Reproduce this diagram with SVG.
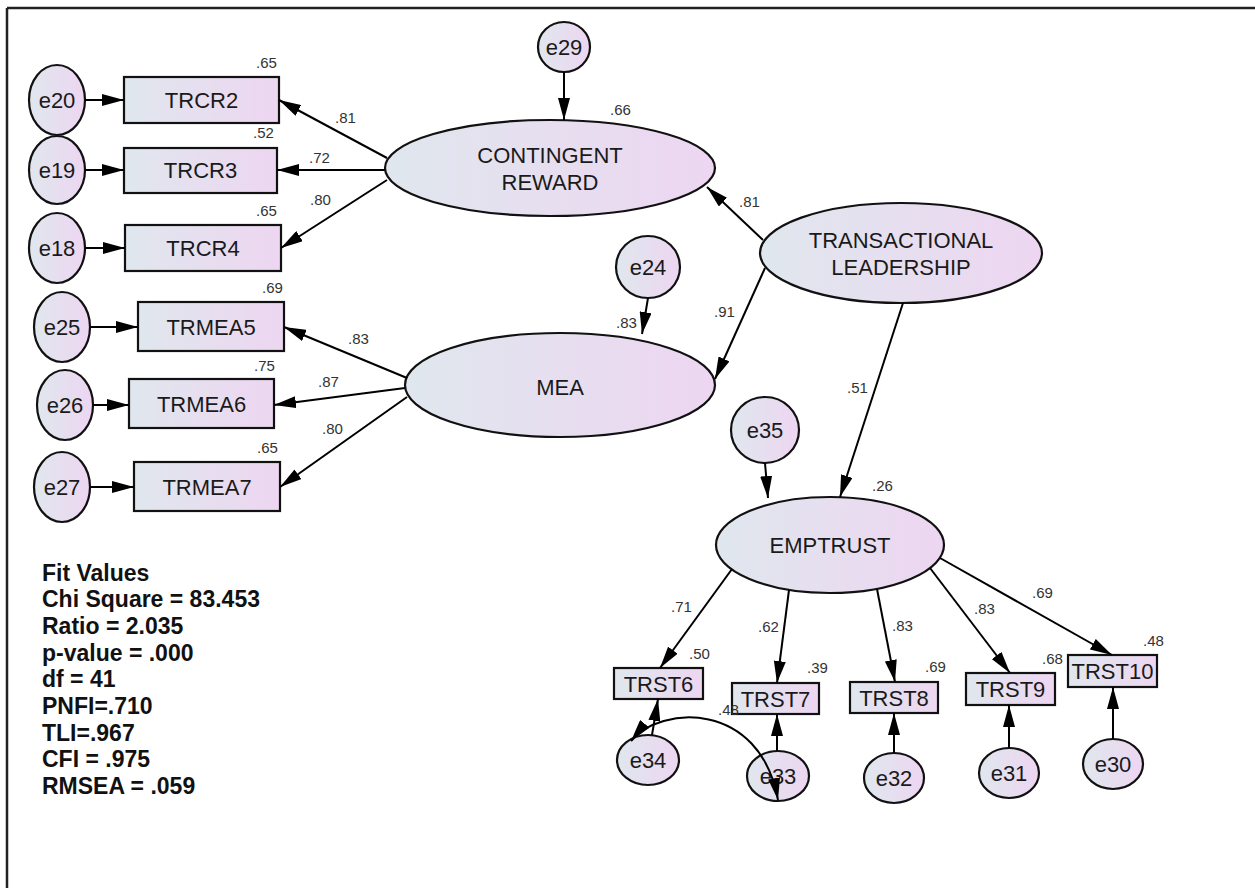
<svg xmlns="http://www.w3.org/2000/svg" width="1255" height="888" viewBox="0 0 1255 888">
<defs>
<linearGradient id="fillG" x1="0" y1="0" x2="1" y2="0">
<stop offset="0" stop-color="#e0e7ee"/>
<stop offset="1" stop-color="#edd6f1"/>
</linearGradient>
<marker id="ah" viewBox="0 0 22 12" refX="22" refY="6" markerWidth="22" markerHeight="12" orient="auto-start-reverse" markerUnits="userSpaceOnUse">
<path d="M0,0 L22,6 L0,12 z" fill="#000"/>
</marker>
<style>
.shape{fill:url(#fillG);stroke:#111;stroke-width:2.2}
.lbl{font-family:"Liberation Sans",Arial,sans-serif;font-size:22px;fill:#1a1a1a;text-anchor:middle;dominant-baseline:central}
.num{font-family:"Liberation Sans",Arial,sans-serif;font-size:15px;fill:#333}
.con{stroke:#000;stroke-width:2;fill:none;marker-end:url(#ah)}
.fit{font-family:"Liberation Sans",Arial,sans-serif;font-size:23px;font-weight:bold;fill:#111}
</style>
</defs>
<rect x="0" y="0" width="1255" height="888" fill="#fff"/>
<g id="frame" stroke="#222" stroke-width="2.5">
<line x1="7" y1="8" x2="1255" y2="8"/>
<line x1="7" y1="8" x2="7" y2="888"/>
</g>

<g id="e20"><ellipse class="shape" cx="57" cy="100" rx="28" ry="35"/><text class="lbl" x="57" y="100">e20</text></g>
<g id="e19"><ellipse class="shape" cx="57" cy="170" rx="28" ry="34"/><text class="lbl" x="57" y="170">e19</text></g>
<g id="e18"><ellipse class="shape" cx="57" cy="248" rx="28" ry="35"/><text class="lbl" x="57" y="248">e18</text></g>
<g id="TRCR2"><rect class="shape" x="124" y="77" width="155" height="46"/><text class="lbl" x="201.5" y="100">TRCR2</text><text class="num" x="256" y="68">.65</text></g>
<g id="TRCR3"><rect class="shape" x="124" y="148" width="153" height="45"/><text class="lbl" x="200.5" y="170">TRCR3</text><text class="num" x="253" y="138">.52</text></g>
<g id="TRCR4"><rect class="shape" x="125" y="225" width="156" height="46"/><text class="lbl" x="203" y="248">TRCR4</text><text class="num" x="256" y="216">.65</text></g>

<g id="e25"><ellipse class="shape" cx="62" cy="327" rx="28" ry="35"/><text class="lbl" x="62" y="327">e25</text></g>
<g id="e26"><ellipse class="shape" cx="65" cy="405" rx="28" ry="35"/><text class="lbl" x="65" y="405">e26</text></g>
<g id="e27"><ellipse class="shape" cx="62" cy="487" rx="28" ry="35"/><text class="lbl" x="62" y="487">e27</text></g>
<g id="TRMEA5"><rect class="shape" x="138" y="302" width="146" height="49"/><text class="lbl" x="211" y="327">TRMEA5</text><text class="num" x="262" y="293">.69</text></g>
<g id="TRMEA6"><rect class="shape" x="129" y="379" width="145" height="49"/><text class="lbl" x="201.5" y="404">TRMEA6</text><text class="num" x="254" y="371">.75</text></g>
<g id="TRMEA7"><rect class="shape" x="134" y="462" width="146" height="49"/><text class="lbl" x="207" y="487">TRMEA7</text><text class="num" x="257" y="453">.65</text></g>

<g id="e29"><ellipse class="shape" cx="564" cy="47" rx="26" ry="25"/><text class="lbl" x="564" y="47">e29</text></g>
<g id="CONTINGENT_REWARD"><ellipse class="shape" cx="550" cy="168" rx="165" ry="48"/><text class="lbl" x="550" y="155">CONTINGENT</text><text class="lbl" x="550" y="182">REWARD</text><text class="num" x="610" y="115">.66</text></g>
<g id="e24"><ellipse class="shape" cx="648" cy="267" rx="32" ry="31"/><text class="lbl" x="648" y="267">e24</text></g>
<g id="MEA"><ellipse class="shape" cx="560" cy="385" rx="155" ry="52"/><text class="lbl" x="560" y="387">MEA</text><text class="num" x="616" y="328">.83</text></g>
<g id="TRANSACTIONAL_LEADERSHIP"><ellipse class="shape" cx="901" cy="253" rx="141" ry="50"/><text class="lbl" x="901" y="240">TRANSACTIONAL</text><text class="lbl" x="901" y="267">LEADERSHIP</text></g>
<g id="e35"><ellipse class="shape" cx="765" cy="430" rx="34" ry="33"/><text class="lbl" x="765" y="430">e35</text></g>
<g id="EMPTRUST"><ellipse class="shape" cx="830" cy="545" rx="114" ry="48"/><text class="lbl" x="830" y="545">EMPTRUST</text><text class="num" x="872" y="491">.26</text></g>

<g id="TRST6"><rect class="shape" x="614" y="668" width="89" height="31"/><text class="lbl" x="658.5" y="684">TRST6</text><text class="num" x="689" y="659">.50</text></g>
<g id="TRST7"><rect class="shape" x="732" y="683" width="87" height="31"/><text class="lbl" x="775.5" y="699">TRST7</text><text class="num" x="807" y="673">.39</text></g>
<g id="TRST8"><rect class="shape" x="850" y="682" width="88" height="31"/><text class="lbl" x="894" y="698">TRST8</text><text class="num" x="925" y="672">.69</text></g>
<g id="TRST9"><rect class="shape" x="966" y="673" width="89" height="32"/><text class="lbl" x="1010.5" y="689">TRST9</text><text class="num" x="1042" y="664">.68</text></g>
<g id="TRST10"><rect class="shape" x="1068" y="655" width="89" height="32"/><text class="lbl" x="1112.5" y="671">TRST10</text><text class="num" x="1143" y="646">.48</text></g>
<g id="e34"><ellipse class="shape" cx="648" cy="760" rx="31" ry="25"/><text class="lbl" x="648" y="760">e34</text></g>
<g id="e33"><ellipse class="shape" cx="778" cy="776" rx="31" ry="25"/><text class="lbl" x="778" y="776">e33</text></g>
<g id="e32"><ellipse class="shape" cx="894" cy="778" rx="30" ry="25"/><text class="lbl" x="894" y="778">e32</text></g>
<g id="e31"><ellipse class="shape" cx="1009" cy="773" rx="30" ry="25"/><text class="lbl" x="1009" y="773">e31</text></g>
<g id="e30"><ellipse class="shape" cx="1113" cy="764" rx="30" ry="25"/><text class="lbl" x="1113" y="764">e30</text></g>

<g id="connectors">
<line class="con" x1="85" y1="100" x2="124" y2="100"/>
<line class="con" x1="85" y1="170" x2="124" y2="170"/>
<line class="con" x1="85" y1="248" x2="125" y2="248"/>
<line class="con" x1="90" y1="327" x2="138" y2="327"/>
<line class="con" x1="93" y1="405" x2="129" y2="405"/>
<line class="con" x1="90" y1="487" x2="134" y2="487"/>
<line class="con" x1="387" y1="158" x2="279" y2="100"/>
<line class="con" x1="385" y1="170" x2="277" y2="170"/>
<line class="con" x1="387" y1="180" x2="281" y2="248"/>
<line class="con" x1="407" y1="378" x2="284" y2="327"/>
<line class="con" x1="405" y1="388" x2="274" y2="405"/>
<line class="con" x1="407" y1="397" x2="280" y2="487"/>
<line class="con" x1="564" y1="72" x2="564" y2="120"/>
<line class="con" x1="648" y1="298" x2="642" y2="334"/>
<line class="con" x1="763" y1="240" x2="707" y2="187"/>
<line class="con" x1="765" y1="268" x2="715" y2="379"/>
<line class="con" x1="903" y1="303" x2="840" y2="497"/>
<line class="con" x1="765" y1="463" x2="768" y2="498"/>
<line class="con" x1="732" y1="569" x2="660" y2="668"/>
<line class="con" x1="789" y1="590" x2="777" y2="683"/>
<line class="con" x1="877" y1="589" x2="895" y2="682"/>
<line class="con" x1="930" y1="568" x2="1010" y2="673"/>
<line class="con" x1="940" y1="558" x2="1112" y2="655"/>
<line class="con" x1="652" y1="735" x2="658" y2="699"/>
<line class="con" x1="777" y1="751" x2="777" y2="714"/>
<line class="con" x1="894" y1="753" x2="894" y2="713"/>
<line class="con" x1="1009" y1="748" x2="1009" y2="705"/>
<line class="con" x1="1113" y1="739" x2="1113" y2="687"/>
<path class="con" d="M631,741 C660,705 760,700 778,800" marker-start="url(#ah)"/>
</g>

<g id="path-labels">
<text class="num" x="335" y="123">.81</text>
<text class="num" x="309" y="163">.72</text>
<text class="num" x="310" y="205">.80</text>
<text class="num" x="348" y="344">.83</text>
<text class="num" x="318" y="387">.87</text>
<text class="num" x="322" y="434">.80</text>
<text class="num" x="739" y="207">.81</text>
<text class="num" x="714" y="317">.91</text>
<text class="num" x="847" y="393">.51</text>
<text class="num" x="671" y="612">.71</text>
<text class="num" x="758" y="632">.62</text>
<text class="num" x="892" y="631">.83</text>
<text class="num" x="974" y="614">.83</text>
<text class="num" x="1032" y="598">.69</text>
<text class="num" x="718" y="715">.48</text>
</g>

<g id="fit-values">
<text class="fit" x="42" y="581">Fit Values</text>
<text class="fit" x="42" y="607">Chi Square = 83.453</text>
<text class="fit" x="42" y="634">Ratio = 2.035</text>
<text class="fit" x="42" y="661">p-value = .000</text>
<text class="fit" x="42" y="687">df = 41</text>
<text class="fit" x="42" y="714">PNFI=.710</text>
<text class="fit" x="42" y="741">TLI=.967</text>
<text class="fit" x="42" y="767">CFI = .975</text>
<text class="fit" x="42" y="794">RMSEA = .059</text>
</g>
</svg>
